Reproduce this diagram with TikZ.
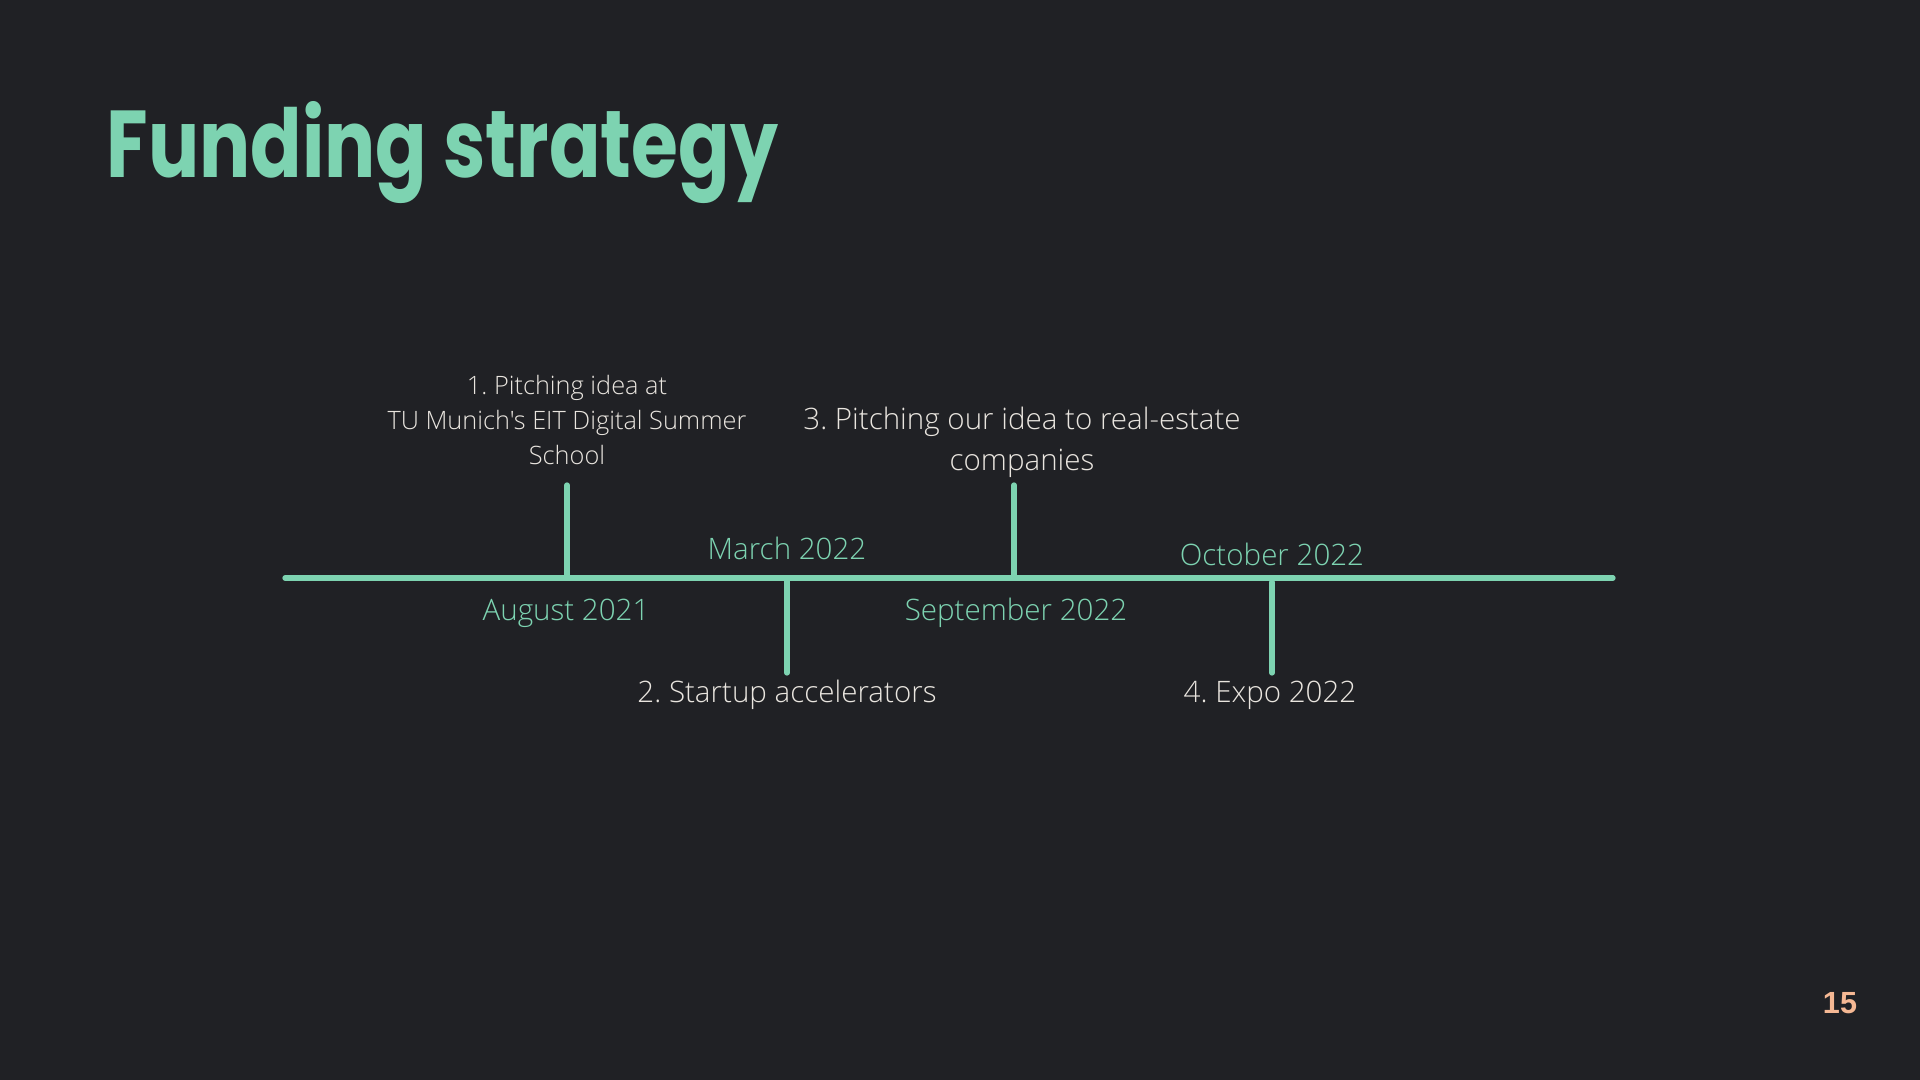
\documentclass[tikz,border=0pt]{standalone}
\usepackage{fontspec}
\setmainfont{Open Sans Light}[Ligatures=TeXOff]
\newfontfamily\titlefont{Poppins}[UprightFont=* Bold]
\newfontfamily\numfont{Liberation Sans}[UprightFont=* Bold]
\definecolor{bg}{HTML}{202125}
\definecolor{mint}{HTML}{7DD3B1}
\definecolor{chalk}{HTML}{E9E5DF}
\definecolor{peach}{HTML}{F5B894}
\frenchspacing
\tikzset{
  axis/.style={mint, line width=1.5pt, line cap=round},
  date/.style={mint, inner sep=0pt, font=\fontsize{8.4}{10}\selectfont},
  item/.style={chalk, inner sep=0pt, align=center},
}
\begin{document}
\begin{tikzpicture}[x=0.01cm, y=-0.01cm]
\fill[bg] (0,0) rectangle (1920,1080);
\useasboundingbox (0,0) rectangle (1920,1080);
% title and page number
\node[anchor=base west, inner sep=0pt, mint, font=\titlefont\fontsize{27}{30}\selectfont] (title) at (106,178) {\scalebox{0.8}[1]{Funding strategy}};
\node[peach, inner sep=0pt, font=\numfont\fontsize{8.7}{10}\selectfont] (page) at (1840,1003) {15};
% time line
\coordinate (start) at (285,578); \coordinate (end) at (1613,578);
\draw[axis] (start) -- (end);
\coordinate (t1) at (567,578); \coordinate (t1top) at (567,485);
\coordinate (t2) at (787,578); \coordinate (t2bot) at (787,673);
\coordinate (t3) at (1014,578); \coordinate (t3top) at (1014,485);
\coordinate (t4) at (1272,582); \coordinate (t4bot) at (1272,673);
\foreach \a/\b in {t1/t1top, t2/t2bot, t3/t3top, t4/t4bot}
  \draw[axis] (\a) -- (\b);
% dates
\node[date] (aug) at (566,613) {August 2021}; \node[date] (mar) at (787,548) {March 2022}; \node[date] (sep) at (1016,613) {September 2022}; \node[date] (oct) at (1272,554) {October 2022};
% steps
\node[item, font=\fontsize{7.2}{10}\selectfont] (s1) at (567,420) {1. Pitching idea at\\TU Munich's EIT Digital Summer\\School};
\node[item, font=\fontsize{8.4}{11.7}\selectfont] (s3) at (1022,442) {3. Pitching our idea to real-estate\\companies};
\node[item, font=\fontsize{8.4}{10}\selectfont] (s2) at (787,695) {2. Startup accelerators};
\node[item, font=\fontsize{8.4}{10}\selectfont] (s4) at (1270,695) {4. Expo 2022};
\end{tikzpicture}
\end{document}
